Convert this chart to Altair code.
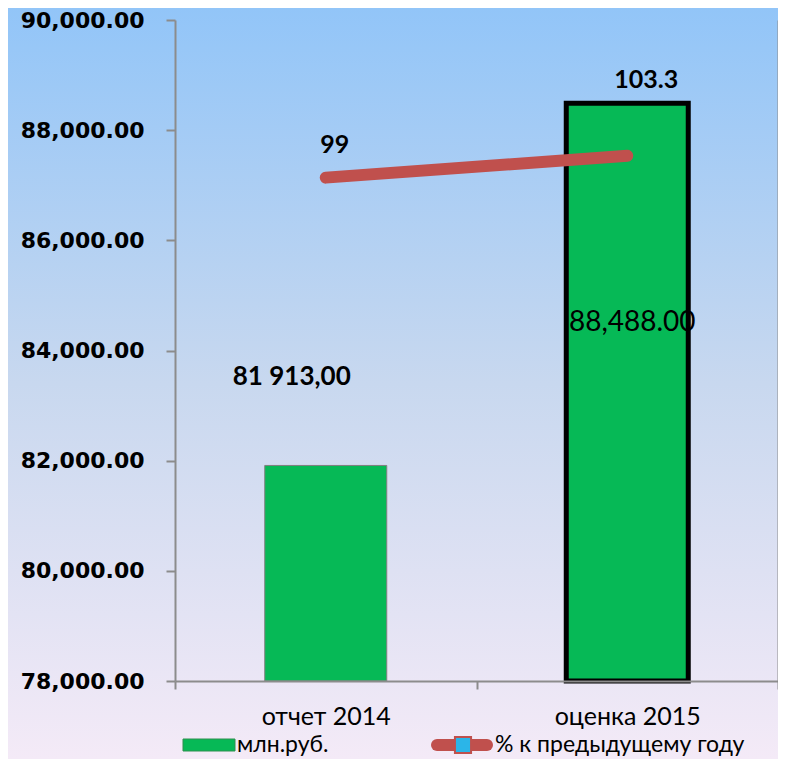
import altair as alt
import pandas as pd

# ---- data ----
categories = ["отчет 2014", "оценка 2015"]
values_mln = [81913.0, 88488.0]
pct_prev = [99.0, 103.3]
bar_label_text = ["81 913,00", "88,488.00"]
pct_label_text = ["99", "103.3"]
series_names = ["млн.руб.", "% к предыдущему году"]
y_ticks = [78000, 80000, 82000, 84000, 86000, 88000, 90000]
y_min, y_max = 78000, 90000

df = pd.DataFrame({
    "cat": categories,
    "val": values_mln,
    "pct": pct_prev,
    "blabel": bar_label_text,
    "plabel": pct_label_text,
})

W, H = 603, 661
PAD = {"left": 167, "top": 12, "right": 0, "bottom": 78}
AXIS_GRAY = "#8c8c8c"
GREEN = "#06b956"
RED = "#c0504d"
FONT = "Lato"

base = alt.Chart(df)

x_enc = alt.X(
    "cat:N",
    sort=categories,
    scale=alt.Scale(domain=categories, paddingInner=0, paddingOuter=0),
    axis=alt.Axis(
        title=None, labelAngle=0, tickBand="extent", tickSize=8,
        tickColor=AXIS_GRAY, tickWidth=2, domainColor=AXIS_GRAY, domainWidth=2,
        labelFont=FONT, labelFontSize=25, labelColor="#000000",
        labelPadding=15, grid=False, zindex=1,
    ),
)

y_left = alt.Y(
    "val:Q",
    scale=alt.Scale(domain=[y_min, y_max], nice=False, zero=False),
    axis=alt.Axis(
        title=None, values=y_ticks, format=",.2f", grid=False,
        labelFont="DejaVu Sans", labelFontWeight="bold", labelFontSize=22,
        labelColor="#000000", labelPadding=22, tickSize=9, tickWidth=2,
        tickColor=AXIS_GRAY, domainColor=AXIS_GRAY, domainWidth=2, zindex=1,
    ),
)

# background gradient
bg = alt.Chart(alt.Data(values=[{"a": 1}])).mark_rect(
    fill=alt.Gradient(
        gradient="linear",
        stops=[
            alt.GradientStop(color="#92c5f8", offset=0),
            alt.GradientStop(color="#c8d8ef", offset=0.5),
            alt.GradientStop(color="#f4eaf7", offset=1),
        ],
        x1=0, x2=0, y1=0, y2=1,
    )
).encode(
    x=alt.value(-PAD["left"]), x2=alt.value(W + PAD["right"]),
    y=alt.value(-PAD["top"]), y2=alt.value(H + PAD["bottom"]),
)

bars = base.mark_bar(size=122, fill=GREEN).encode(
    x=x_enc,
    y=y_left,
    y2=alt.datum(y_min),
    stroke=alt.condition(alt.datum.cat == categories[1], alt.value("#000000"), alt.value("#7f7f7f")),
    strokeWidth=alt.condition(alt.datum.cat == categories[1], alt.value(5), alt.value(1)),
)

lbl1 = base.transform_filter(alt.datum.cat == categories[0]).mark_text(
    font=FONT, fontSize=26, fontWeight="bold", color="#000000",
    dx=-34, dy=-88, baseline="middle",
).encode(x=x_enc, y=y_left, text="blabel:N")

lbl2 = base.transform_filter(alt.datum.cat == categories[1]).mark_text(
    font=FONT, fontSize=28, color="#000000",
    dx=5, dy=220, baseline="middle",
).encode(x=x_enc, y=y_left, text="blabel:N")

left_layer = alt.layer(bg, bars, lbl1, lbl2)

y_right = alt.Y(
    "pct:Q",
    scale=alt.Scale(domain=[0, 130], nice=False, zero=False),
    axis=alt.Axis(
        title=None, orient="right", labels=False, ticks=False, grid=False,
        domainColor=AXIS_GRAY, domainWidth=2, zindex=1,
    ),
)

line = base.mark_line(strokeWidth=12, strokeCap="round", color=RED).encode(
    x=x_enc, y=y_right,
)
plbl1 = base.transform_filter(alt.datum.cat == categories[0]).mark_text(
    font=FONT, fontSize=25, fontWeight="bold", color="#000000",
    dx=9, dy=-33, baseline="middle",
).encode(x=x_enc, y=y_right, text="plabel:N")
plbl2 = base.transform_filter(alt.datum.cat == categories[1]).mark_text(
    font=FONT, fontSize=25, fontWeight="bold", color="#000000",
    dx=19, dy=-76, baseline="middle",
).encode(x=x_enc, y=y_right, text="plabel:N")

right_layer = alt.layer(line, plbl1, plbl2)

# legend (manual, below the plot)
LEG_Y = 725
leg_data = alt.Data(values=[{"name": series_names[0]}, {"name": series_names[1]}])
leg_bar_sym = alt.Chart(leg_data).transform_filter(alt.datum.name == series_names[0]).mark_rect(
    fill=GREEN, stroke="#2f8f4f", strokeWidth=1
).encode(x=alt.value(8), x2=alt.value(60), y=alt.value(LEG_Y - 6), y2=alt.value(LEG_Y + 6))
leg_bar_txt = alt.Chart(leg_data).transform_filter(alt.datum.name == series_names[0]).mark_text(
    font=FONT, fontSize=23, align="left", baseline="middle", color="#000000"
).encode(x=alt.value(62), y=alt.value(LEG_Y), text="name:N")
leg_line_sym = alt.Chart(leg_data).transform_filter(alt.datum.name == series_names[1]).mark_rule(
    color=RED, strokeWidth=12, strokeCap="round"
).encode(x=alt.value(262), x2=alt.value(312), y=alt.value(LEG_Y))
leg_pt = alt.Chart(leg_data).transform_filter(alt.datum.name == series_names[1]).mark_point(
    shape="square", filled=True, fill="#2bb5e8", stroke=RED, strokeWidth=2, size=260, opacity=1
).encode(x=alt.value(288), y=alt.value(LEG_Y))
leg_line_txt = alt.Chart(leg_data).transform_filter(alt.datum.name == series_names[1]).mark_text(
    font=FONT, fontSize=23, align="left", baseline="middle", color="#000000"
).encode(x=alt.value(320), y=alt.value(LEG_Y), text="name:N")

legend_layer = alt.layer(leg_bar_sym, leg_bar_txt, leg_line_sym, leg_pt, leg_line_txt)

chart = alt.layer(left_layer, right_layer, legend_layer).resolve_scale(
    y="independent"
).properties(
    width=W, height=H,
    padding=PAD,
    autosize=alt.AutoSizeParams(type="none"),
).configure_view(stroke=None).configure(background="#ffffff")

chart.save("out.html", embed_options={"renderer": "svg", "actions": False})
